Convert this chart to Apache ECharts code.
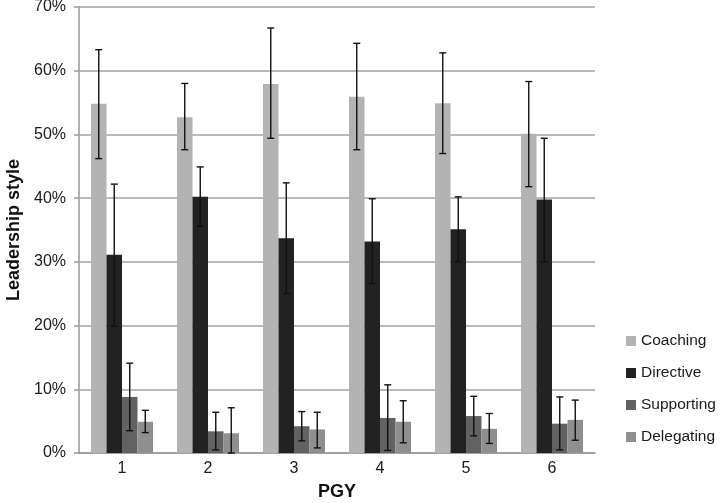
<!DOCTYPE html>
<html>
<head>
<meta charset="utf-8">
<style>
html,body{margin:0;padding:0;background:#fff;}
#chart{width:720px;height:503px;}
</style>
<script src="https://cdn.jsdelivr.net/npm/echarts@6/dist/echarts.min.js"></script>
</head>
<body>
<div id="chart"></div>
<script>
var categories = ['1', '2', '3', '4', '5', '6'];
var seriesNames = ['Coaching', 'Directive', 'Supporting', 'Delegating'];
var yTicks = [0, 10, 20, 30, 40, 50, 60, 70];

var coaching   = [54.8, 52.7, 57.9, 55.9, 54.9, 50.1];
var directive  = [31.1, 40.2, 33.7, 33.2, 35.1, 39.8];
var supporting = [8.8, 3.4, 4.2, 5.5, 5.8, 4.6];
var delegating = [4.9, 3.1, 3.7, 4.9, 3.8, 5.2];

var coachingLow   = [46.2, 47.6, 49.4, 47.6, 47.0, 41.8];
var coachingHigh  = [63.3, 58.0, 66.7, 64.3, 62.8, 58.3];
var directiveLow  = [19.9, 35.6, 25.0, 26.6, 30.0, 30.0];
var directiveHigh = [42.2, 44.9, 42.4, 39.9, 40.2, 49.4];
var supportingLow = [3.5, 0.5, 1.9, 0.4, 2.7, 0.5];
var supportingHigh= [14.1, 6.4, 6.5, 10.7, 8.9, 8.8];
var delegatingLow = [3.2, 0.0, 0.8, 1.6, 1.5, 2.0];
var delegatingHigh= [6.7, 7.1, 6.4, 8.2, 6.2, 8.3];

var values = [coaching, directive, supporting, delegating];
var lows = [coachingLow, directiveLow, supportingLow, delegatingLow];
var highs = [coachingHigh, directiveHigh, supportingHigh, delegatingHigh];
var colors = ['#b3b3b3', '#222222', '#626262', '#8f8f8f'];

var BAR_W = 15.5;
var FONT = '"Liberation Sans", Arial, sans-serif';

var series = [];
seriesNames.forEach(function (name, k) {
  series.push({
    name: name,
    type: 'bar',
    data: values[k],
    barWidth: BAR_W,
    barGap: '0%',
    itemStyle: { color: colors[k] },
    z: 2
  });
});
seriesNames.forEach(function (name, k) {
  var data = categories.map(function (c, i) { return [i, lows[k][i], highs[k][i]]; });
  series.push({
    name: name + ' error',
    type: 'custom',
    data: data,
    z: 5,
    encode: { x: 0, y: [1, 2] },
    renderItem: function (params, api) {
      var i = api.value(0);
      var lo = api.coord([i, api.value(1)]);
      var hi = api.coord([i, api.value(2)]);
      var x = lo[0] + (k - 1.5) * BAR_W;
      var cap = 3.5;
      var style = { stroke: '#111', lineWidth: 1.4 };
      return {
        type: 'group',
        children: [
          { type: 'line', shape: { x1: x, y1: hi[1], x2: x, y2: lo[1] }, style: style },
          { type: 'line', shape: { x1: x - cap, y1: hi[1], x2: x + cap, y2: hi[1] }, style: style },
          { type: 'line', shape: { x1: x - cap, y1: lo[1], x2: x + cap, y2: lo[1] }, style: style }
        ]
      };
    }
  });
});

var chart = echarts.init(document.getElementById('chart'), null, { renderer: 'canvas' });
chart.setOption({
  animation: false,
  backgroundColor: '#fff',
  textStyle: { fontFamily: FONT },
  grid: { left: 79, right: 125, top: 7, bottom: 50, containLabel: false, outerBoundsMode: 'none' },
  legend: {
    data: seriesNames,
    orient: 'vertical',
    left: 621,
    top: 328,
    itemWidth: 10,
    itemHeight: 10,
    itemGap: 16,
    icon: 'rect',
    textStyle: { fontSize: 15.5, color: '#1a1a1a', fontFamily: FONT }
  },
  xAxis: {
    type: 'category',
    data: categories,
    name: 'PGY',
    nameLocation: 'middle',
    nameGap: 30,
    nameTextStyle: { fontSize: 18, fontWeight: 'bold', color: '#111', fontFamily: FONT },
    axisLine: { lineStyle: { color: '#999', width: 1.5 } },
    axisTick: { show: false },
    axisLabel: { fontSize: 16, color: '#1a1a1a', margin: 8, fontFamily: FONT }
  },
  yAxis: {
    type: 'value',
    min: yTicks[0],
    max: yTicks[yTicks.length - 1],
    interval: 10,
    name: 'Leadership style',
    nameLocation: 'middle',
    nameGap: 56,
    nameTextStyle: { fontSize: 18, fontWeight: 'bold', color: '#111', fontFamily: FONT },
    axisLine: { show: true, lineStyle: { color: '#999', width: 1.5 } },
    axisTick: { show: true, length: 5, lineStyle: { color: '#999', width: 1.5 } },
    axisLabel: { fontSize: 16, color: '#1a1a1a', margin: 13, formatter: '{value}%', fontFamily: FONT },
    splitLine: { lineStyle: { color: '#a3a3a3', width: 1.5 } }
  },
  series: series
});
</script>
</body>
</html>
